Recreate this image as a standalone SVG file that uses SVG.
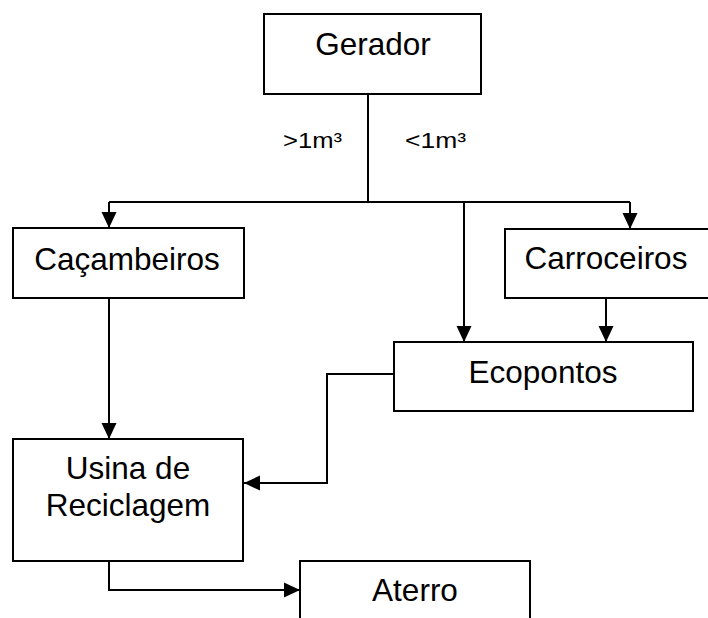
<svg xmlns="http://www.w3.org/2000/svg" width="708" height="618" viewBox="0 0 708 618">
  <style>
    .box { fill: #ffffff; stroke: #000000; stroke-width: 2; }
    .lbl { font-family: "Liberation Sans", Arial, sans-serif; font-size: 31.5px; fill: #000000; text-anchor: middle; }
    .sm { font-family: "Liberation Sans", Arial, sans-serif; font-size: 22px; fill: #000000; }
    .wire { fill: none; stroke: #000000; stroke-width: 2; }
  </style>
  <defs>
    <marker id="arrow" markerUnits="userSpaceOnUse" markerWidth="18" markerHeight="18" refX="16" refY="8" orient="auto">
      <path d="M0,0.5 L16,8 L0,15.5 Z" fill="#000000"/>
    </marker>
  </defs>
  <rect width="708" height="618" fill="#ffffff"/>

  <!-- connectors -->
  <g id="connectors">
    <path class="wire" d="M368,94 V202"/>
    <path class="wire" d="M109,202 H630"/>
    <path class="wire" d="M109,202 V228" marker-end="url(#arrow)"/>
    <path class="wire" d="M630,202 V229" marker-end="url(#arrow)"/>
    <path class="wire" d="M464,202 V342" marker-end="url(#arrow)"/>
    <path class="wire" d="M606,298 V342" marker-end="url(#arrow)"/>
    <path class="wire" d="M109,298 V439" marker-end="url(#arrow)"/>
    <path class="wire" d="M394,374 H327 V483 H244" marker-end="url(#arrow)"/>
    <path class="wire" d="M109,561 V590 H300" marker-end="url(#arrow)"/>
    <text class="sm" x="283" y="148" textLength="59" lengthAdjust="spacingAndGlyphs">&gt;1m³</text>
    <text class="sm" x="405" y="148" textLength="61" lengthAdjust="spacingAndGlyphs">&lt;1m³</text>
  </g>

  <g id="gerador">
    <rect class="box" x="264" y="14" width="217" height="80"/>
    <text class="lbl" x="373" y="55">Gerador</text>
  </g>

  <g id="cacambeiros">
    <rect class="box" x="13" y="228" width="231" height="70"/>
    <text class="lbl" x="127" y="270">Caçambeiros</text>
  </g>

  <g id="carroceiros">
    <rect class="box" x="505" y="229" width="210" height="69"/>
    <text class="lbl" x="606" y="269">Carroceiros</text>
  </g>

  <g id="ecopontos">
    <rect class="box" x="394" y="342" width="299" height="69"/>
    <text class="lbl" x="543" y="383">Ecopontos</text>
  </g>

  <g id="usina">
    <rect class="box" x="13" y="439" width="230" height="122"/>
    <text class="lbl" x="128" y="479">Usina de</text>
    <text class="lbl" x="128" y="516">Reciclagem</text>
  </g>

  <g id="aterro">
    <rect class="box" x="300" y="561" width="230" height="80"/>
    <text class="lbl" x="415" y="601">Aterro</text>
  </g>
</svg>
